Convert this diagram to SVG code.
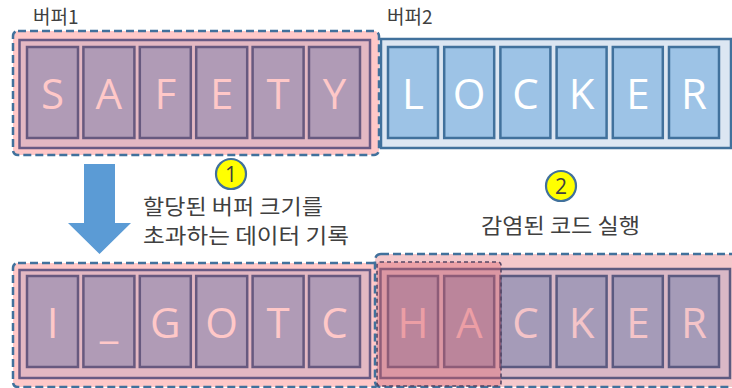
<svg xmlns="http://www.w3.org/2000/svg" width="732" height="388" viewBox="0 0 732 388">
<style>
.dash{stroke:#41719c;stroke-width:2.5;stroke-dasharray:8,4}
.pinkOuter{fill:#ffc8c8}
.inner1{fill:#e3b8c3;stroke:#685a84;stroke-width:2.5}
.cell1{fill:#b09bb6;stroke:#67597f;stroke-width:2.5}
.outer2{fill:#dce6f2;stroke:#41719c;stroke-width:2.5}
.cell2{fill:#9dc3e6;stroke:#41719c;stroke-width:2.5}
.inner3{fill:#d9b8c6;stroke:#5d5a80;stroke-width:2.5}
.cell3{fill:#a59bb8;stroke:#5b5a80;stroke-width:2.5}
.big{font-family:"Open Sans","Liberation Sans",sans-serif;font-size:42px;text-anchor:middle}
.pinkT{fill:#ffc8c8}
.whiteT{fill:#ffffff}
.kr{font-family:"Noto Sans CJK KR","Noto Sans",sans-serif;fill:#404040}
.num{font-family:"Open Sans","Liberation Sans",sans-serif;font-size:21px;fill:#404040;text-anchor:middle}
.badge{fill:#ffff00;stroke:#41719c;stroke-width:2.2}
</style>

<g id="label-buffer1"><text class="kr" x="33" y="24" font-size="19">버퍼1</text></g>
<g id="label-buffer2"><text class="kr" x="387" y="24" font-size="19">버퍼2</text></g>

<g id="top-buffer1">
<rect class="pinkOuter dash" x="13" y="31" width="366" height="124" rx="5"/>
<rect class="inner1" x="19.5" y="40" width="350.5" height="108"/>
<rect class="cell1" x="27" y="47" width="51" height="91"/>
<rect class="cell1" x="83.4" y="47" width="51" height="91"/>
<rect class="cell1" x="139.8" y="47" width="51" height="91"/>
<rect class="cell1" x="196.2" y="47" width="51" height="91"/>
<rect class="cell1" x="252.6" y="47" width="51" height="91"/>
<rect class="cell1" x="309" y="47" width="51" height="91"/>
<text class="big pinkT" x="52.5" y="109">S</text>
<text class="big pinkT" x="108.9" y="109">A</text>
<text class="big pinkT" x="165.3" y="109">F</text>
<text class="big pinkT" x="221.7" y="109">E</text>
<text class="big pinkT" x="278.1" y="109">T</text>
<text class="big pinkT" x="334.5" y="109">Y</text>
</g>

<g id="top-buffer2">
<rect class="outer2" x="381" y="39" width="350" height="109"/>
<rect class="cell2" x="388" y="47" width="50" height="91"/>
<rect class="cell2" x="444.2" y="47" width="50" height="91"/>
<rect class="cell2" x="500.4" y="47" width="50" height="91"/>
<rect class="cell2" x="556.6" y="47" width="50" height="91"/>
<rect class="cell2" x="612.8" y="47" width="50" height="91"/>
<rect class="cell2" x="669" y="47" width="50" height="91"/>
<text class="big whiteT" x="413" y="109">L</text>
<text class="big whiteT" x="469.2" y="109">O</text>
<text class="big whiteT" x="525.4" y="109">C</text>
<text class="big whiteT" x="581.6" y="109">K</text>
<text class="big whiteT" x="637.8" y="109">E</text>
<text class="big whiteT" x="694" y="109">R</text>
</g>

<g id="bottom-buffer1">
<rect class="pinkOuter dash" x="13" y="263" width="366" height="124" rx="5"/>
<rect class="inner1" x="19.5" y="270" width="350.5" height="108"/>
<rect class="cell1" x="27" y="276" width="51" height="91"/>
<rect class="cell1" x="83.4" y="276" width="51" height="91"/>
<rect class="cell1" x="139.8" y="276" width="51" height="91"/>
<rect class="cell1" x="196.2" y="276" width="51" height="91"/>
<rect class="cell1" x="252.6" y="276" width="51" height="91"/>
<rect class="cell1" x="309" y="276" width="51" height="91"/>
<text class="big pinkT" x="52.5" y="338">I</text>
<text class="big pinkT" x="108.9" y="338">_</text>
<text class="big pinkT" x="165.3" y="338">G</text>
<text class="big pinkT" x="221.7" y="338">O</text>
<text class="big pinkT" x="278.1" y="338">T</text>
<text class="big pinkT" x="334.5" y="338">C</text>
</g>

<g id="bottom-buffer2">
<rect class="dash" fill="#f4c8cb" x="375" y="254" width="380" height="133" rx="6"/>
<rect class="inner3" x="380.5" y="269" width="349.5" height="109"/>
<rect class="cell3" x="388" y="276" width="50" height="91"/>
<rect class="cell3" x="444.2" y="276" width="50" height="91"/>
<rect class="cell3" x="500.4" y="276" width="50" height="91"/>
<rect class="cell3" x="556.6" y="276" width="50" height="91"/>
<rect class="cell3" x="612.8" y="276" width="50" height="91"/>
<rect class="cell3" x="669" y="276" width="50" height="91"/>
<text class="big" fill="#f4c4c8" x="413" y="338">H</text>
<text class="big" fill="#f4c4c8" x="469.2" y="338">A</text>
<text class="big" fill="#f4c4c8" x="525.4" y="338">C</text>
<text class="big" fill="#f4c4c8" x="581.6" y="338">K</text>
<text class="big" fill="#f4c4c8" x="637.8" y="338">E</text>
<text class="big" fill="#f4c4c8" x="694" y="338">R</text>
</g>

<g id="overflow-overlay">
<rect x="377" y="262" width="124" height="124" rx="3" fill="#e0606c" fill-opacity="0.38" stroke="#554766" stroke-width="1.6" stroke-dasharray="4,3"/>
</g>

<g id="connectors">
<polygon points="84,164 115,164 115,223 131,223 99.5,254 68,223 84,223" fill="#5b9bd5"/>
</g>

<g id="step1">
<circle class="badge" cx="231" cy="174" r="15"/>
<text class="num" x="231" y="181.5">1</text>
<text class="kr" x="143" y="214" font-size="21" textLength="180" lengthAdjust="spacingAndGlyphs">할당된 버퍼 크기를</text>
<text class="kr" x="143" y="243" font-size="21" textLength="206" lengthAdjust="spacingAndGlyphs">초과하는 데이터 기록</text>
</g>

<g id="step2">
<circle class="badge" cx="561" cy="186" r="15"/>
<text class="num" x="561" y="193.5">2</text>
<text class="kr" x="481" y="233" font-size="21" textLength="159" lengthAdjust="spacingAndGlyphs">감염된 코드 실행</text>
</g>
</svg>
